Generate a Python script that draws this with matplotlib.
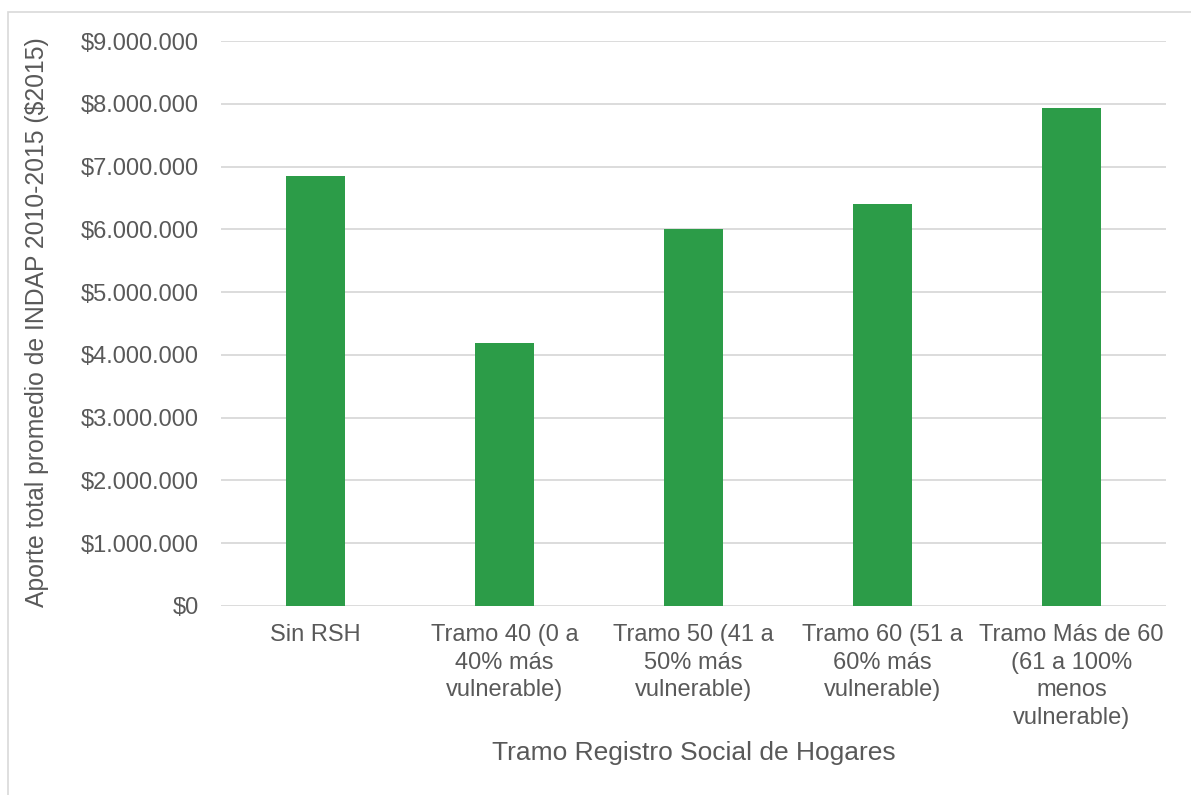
import matplotlib
matplotlib.use("Agg")
import matplotlib.pyplot as plt
from matplotlib.ticker import FuncFormatter, MultipleLocator
from matplotlib.patches import Rectangle

plt.rcParams['font.family'] = ['Liberation Sans', 'DejaVu Sans']

# data
categories = ["Sin RSH",
              "Tramo 40 (0 a\n40% más\nvulnerable)",
              "Tramo 50 (41 a\n50% más\nvulnerable)",
              "Tramo 60 (51 a\n60% más\nvulnerable)",
              "Tramo Más de 60\n(61 a 100%\nmenos\nvulnerable)"]
aporte = [6845000, 4185000, 6000000, 6400000, 7940000]

TEXT = '#595959'
GRID = '#d9d9d9'
GREEN = '#2c9c48'

fig = plt.figure(figsize=(11.91, 7.95), dpi=100)
ax = fig.add_axes([221/1191, 1 - 606/795, (1166-221)/1191, (606-41)/795])

# chart area border (Excel style)
fig.patches.append(Rectangle((8/1191, -0.1), 1.2, 1 - 12/795 + 0.1,
                             transform=fig.transFigure, fill=False,
                             edgecolor=GRID, linewidth=1.2))

x = range(len(categories))
ax.bar(x, aporte, width=0.315, color=GREEN, zorder=3)

ax.set_ylim(0, 9000000)
ax.set_xlim(-0.5, len(categories) - 0.5)
ax.yaxis.set_major_locator(MultipleLocator(1000000))
ax.yaxis.set_major_formatter(FuncFormatter(lambda v, p: "\\$" + "{:,.0f}".format(v).replace(",", ".")))
ax.grid(axis='y', color=GRID, linewidth=1.3, zorder=0)
for s in ax.spines.values():
    s.set_visible(False)

ax.set_xticks(list(x))
ax.set_xticklabels(categories, linespacing=1.33)
ax.tick_params(axis='both', length=0, labelsize=17, labelcolor=TEXT)
ax.tick_params(axis='y', pad=16)
ax.tick_params(axis='x', pad=13)

ax.set_xlabel("Tramo Registro Social de Hogares", fontsize=19, color=TEXT)
ax.xaxis.set_label_coords(0.5, (606-753)/565)
ax.xaxis.label.set_va('center')
ax.set_ylabel("Aporte total promedio de INDAP 2010-2015 (\\$2015)", fontsize=17.8, color=TEXT)
ax.yaxis.set_label_coords((37-221)/945, (606-322)/565)
ax.yaxis.label.set_va('center')

fig.savefig("out.png", dpi=100)
